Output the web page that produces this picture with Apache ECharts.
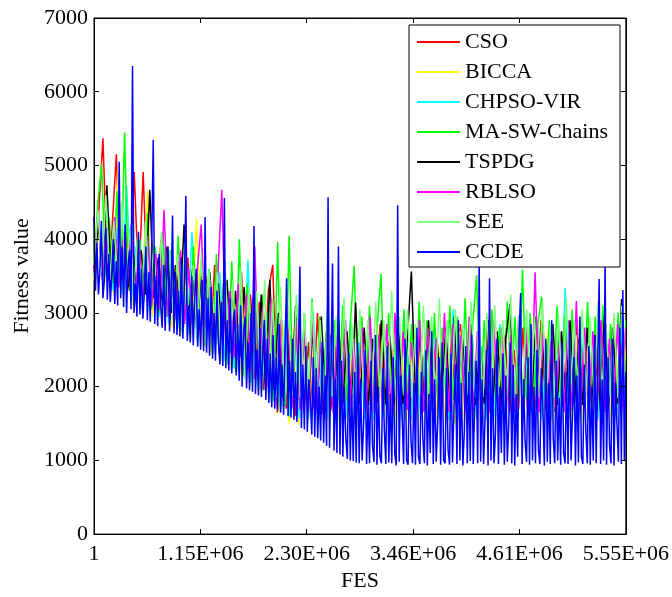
<!DOCTYPE html>
<html>
<head>
<meta charset="utf-8">
<script src="https://cdn.jsdelivr.net/npm/echarts@6/dist/echarts.min.js"></script>
<style>
html,body{margin:0;padding:0;background:#fff;}
#chart{width:672px;height:597px;}
</style>
</head>
<body>
<div id="chart"></div>
<script>
// Tick labels of the FES axis (placed at 0..5 evenly)
var xTickLabels = ['1', '1.15E+06', '2.30E+06', '3.46E+06', '4.61E+06', '5.55E+06'];
var seriesNames = ['CSO', 'BICCA', 'CHPSO-VIR', 'MA-SW-Chains', 'TSPDG', 'RBLSO', 'SEE', 'CCDE'];

var CSO = [
3600,4300,5370,3500,4100,5150,3400,4200,3300,4910,3350,4910,3150,3900,3100,4000,3000,3800,2900,3700,
2800,3750,2700,3600,2600,3500,2550,3650,2450,3400,2350,3300,2300,3550,2200,3250,2100,3150,1950,3300,
3650,1650,2900,1700,2700,1600,2850,1650,2600,1700,3000,1620,2750,1680,2550,1650,2800,1700,2650,1640,
2700,1700,2500,1650,2850,1720,2600,1680,2900,1650,2550,1700,2750,1690,2450,1710,2800,1660,2600,1700,
2650,1680,2850,1720,2500,1650,2750,1700,2950,1660,2600,1710,2700,1650,2500,1690,2800,1700,2550,1670,
2900,1700,2600,1660,2750,1720,2500,1680,2850,1650,2650,1700,2700,1690,2550,1710,2800,1660,2600,1700
];
var BICCA = [
3450,4200,3300,3900,3250,4950,3150,3800,3100,4050,
3000,4660,2950,3700,2850,3600,2800,3750,2700,3500,
2650,4270,2550,3400,2450,3300,2350,3200,2250,3150,
2150,3100,2000,2900,1900,3000,1800,2750,1650,2850,
1500,2800,1480,2600,1550,2700,1500,2500,1520,2650,
1500,2550,1530,2700,1490,2450,1520,2600,1500,2750,
1510,2500,1480,2650,1520,2400,1500,2700,1490,2550,
1520,2600,1500,2450,1480,2750,1510,2500,1490,2650,
1500,2700,1520,2550,1490,2400,1510,2650,1500,2500,
1480,2600,1510,2750,1500,2450,1520,2550,1490,2700,
1500,2500,1520,2650,1490,2600,1510,2450,1500,2550
];
var CHPSO = [
3500,4300,3350,4000,3300,4150,3250,4730,3150,3900,
3050,3800,3000,3650,2950,3900,2850,3550,2800,3700,
2700,4090,2650,3500,2550,3400,2450,3550,2350,3300,
2250,3250,2150,3720,2050,3100,1950,3000,1800,2950,
1650,2900,1600,2750,1580,2850,1560,3030,1550,2700,
1560,2800,1540,2650,1570,2900,1550,2600,1560,2750,
1550,2700,1580,2550,1540,2850,1560,2650,1550,2800,
1570,2600,1550,2750,1560,2500,1540,3050,1560,2650,
1550,2800,1570,2550,1540,2700,1560,2850,1550,2600,
1560,2750,1540,2650,1570,2900,1550,2550,1560,2700,
1550,3340,1570,2600,1540,2800,1560,2650,1550,2750,
1560,2700,1540,2850,1570
];
var MASW = [
3700,4500,5020,3500,4300,3400,4650,3350,5450,3300,
4200,3250,4000,3150,4350,3050,3900,3000,4100,2950,
3850,2850,4050,2750,3700,2700,3900,2600,3650,2550,
3600,2450,3800,2350,3500,2300,3700,2200,4000,2150,
3400,2050,3300,1950,3250,1900,3350,1800,3960,1750,
1750,4050,1800,3100,1850,3000,1800,3200,1820,2950,
1800,3050,1850,2900,1820,3100,1800,2850,3640,1830,
2950,1800,3100,1850,2800,3530,1820,3000,1800,2900,
1850,3050,1800,2850,1830,3150,1810,2900,1840,3000,
1800,2800,1850,3100,1820,2950,1800,3200,1830,2850,
3510,1820,2900,1800,3050,1850,2800,1810,3150,1830,
2950,1800,3590,1840,3000,1810,2850,3220,1830,2900,
1800,3100,1850,2950,1820,3050,1800,2900,1840,3150,
1810,2950,1830,3100,1800,2850,1850,3000,1820,2900
];
var TSPDG = [
3600,4200,3500,4730,3450,4000,3400,4100,3350,3900,
3300,3850,3250,4670,3200,3750,3100,3900,3000,3650,
2950,4200,2850,3600,2750,3500,2700,3550,2600,3400,
2550,3450,2450,3300,2400,3350,2300,3200,2200,3250,
2050,3450,1950,3000,1850,2900,1800,3100,1750,2850,
1780,2800,1750,2950,1770,2700,1760,2900,1750,2750,
1770,3140,1760,2800,1750,2650,1780,2900,1760,2700,
1750,2850,1770,2600,3560,1760,2750,1750,2900,1770,
2650,1760,2800,1750,2950,1780,2700,1760,2850,1750,
2600,1770,2900,1760,2750,1750,2650,3120,1780,2800,
1760,2700,1750,2950,1770,2600,1760,2850,1750,2750,
1780,2900,1760,2650,1750,2800,1770,2700,1760,2950,
1750,2800,1770,3190,1760
];
var RBLSO = [
3550,4400,3450,4150,3400,4300,3350,4000,3300,4200,
3250,3900,3200,4050,3100,3800,3050,4400,2950,3700,
2900,3850,2850,3600,2750,3550,4200,2650,3500,2600,
3450,4670,2500,3300,2400,3400,2300,3250,2200,3900,
2100,3100,2000,3200,1900,2950,1800,3050,1700,2900,
1680,2800,1650,2950,1670,2700,1660,2850,1650,2750,
1670,2900,1650,2650,1680,2800,1660,2950,1650,2700,
1670,2850,1650,3000,1660,2750,1680,2600,1650,2900,
1660,2800,1670,2650,1650,3000,1660,2850,1680,2700,
1650,2950,1670,2750,1660,2600,1650,2900,1680,2800,
1660,2700,1650,2950,1670,2800,1660,3550,1650,2750,
1680,2850,1660,2700,1650,2900,1670,3160,1660,2800,
1650,2750,1670,2900,1660,2650,1680,2850,1650,2800
];
var SEE = [
3650,4400,3550,4600,3450,4250,3400,4500,3350,4150,
3300,4050,3200,4250,3100,3900,3050,4100,2950,3850,
2900,3800,2800,3950,2700,3650,2650,3800,2550,3600,
2450,3550,2350,3700,2300,3450,2200,3600,2100,3350,
2000,3300,1950,3450,1900,3200,1850,3350,1850,3100,
1870,3250,1850,3000,1880,3150,1860,2900,1850,3100,
1870,2950,1850,3200,1860,2850,1880,3050,1850,2900,
1860,3150,1850,2900,1870,3300,1850,2950,1880,3050,
1850,2850,1870,3100,1860,2950,1850,3200,1870,2900,
1860,3050,1850,2850,1880,3150,1850,2950,1860,3000,
1850,3100,1870,2900,1860,3250,1850,2950,1880,3050,
1860,2950,1850,3150,1870,2850,1850,3000,1860,3200,
1850,2900,1880,3050,1860,2950,1850,3150,1870,2850,
1860,3000,1850,3100,1870
];
var CCDE = [
4300,3300,3950,3250,3600,4250,3200,3450,4150,3180,3800,3150,3500,4000,3120,3700,3100,5050,3200,3900,
3080,4200,3000,3650,3850,3050,6350,3000,3400,2950,4100,2980,3600,2920,3300,3900,2900,3550,2880,4000,
5350,2850,3500,2820,3800,3100,2800,3650,2760,3400,3900,2750,3200,4320,2720,3550,2700,3300,2680,3750,
2650,3400,4590,2620,3100,2600,3500,2560,3250,3600,2540,3050,2500,3450,2480,4300,2460,3200,2420,3350,
2380,3000,2350,3300,2600,2300,3150,2280,4560,2250,2900,2220,3200,2180,2700,3050,2150,2850,2080,3100,
2000,2750,2950,1980,2600,1950,3000,1930,4180,1900,2500,1880,2800,1860,2550,2900,1820,2650,1780,2450,
1720,2700,1700,2400,1680,2850,1650,2300,1620,2550,3470,1600,2350,1580,2650,1550,2200,1520,2500,3630,
1440,2300,1420,2550,1390,2100,1850,1350,2400,1320,2250,1300,2000,1270,2600,1240,2150,1200,4570,1170,
2300,3670,1130,2100,1100,3900,1080,2350,1050,2000,1300,1020,2450,1000,1900,990,2200,970,2600,960,
2100,1000,1500,2500,950,1800,960,2350,1200,980,2700,940,2000,1050,960,2250,1400,950,2550,970,
1900,960,2400,1100,930,4460,980,2150,1600,950,2650,1000,940,2300,1250,960,2050,940,2800,1050,
950,2200,1300,960,2500,930,1900,1100,2750,950,2100,980,1500,2400,940,2600,1000,960,2250,1150,
940,2450,970,1700,2300,950,2900,1000,2050,930,1400,2550,960,2200,990,2700,950,1800,2350,960,
3700,980,2100,950,1600,2500,930,3470,1000,2250,960,1350,2650,950,2000,1100,2450,940,2150,980,
1500,2600,960,2300,930,1900,1050,2750,3270,950,2100,1250,980,2400,940,2850,1000,2000,960,2500,
1150,950,2250,1700,930,2650,980,2050,950,2900,1300,960,2350,1000,1850,940,2600,1100,960,2200,
950,2750,1000,1600,2400,930,2150,970,2950,1050,950,2300,1400,960,2550,940,2000,1000,2700,960,
2250,3460,950,2100,1000,3700,940,2400,1200,960,2650,930,2050,1500,980,2800,950,3310,1000,2200
];

var seriesData = [CSO, BICCA, CHPSO, MASW, TSPDG, RBLSO, SEE, CCDE];
var colors = ['#ff0000', '#ffff00', '#00ffff', '#00ff00', '#000000', '#ff00ff', '#7dff7d', '#0000ff'];

var FONT = '"Liberation Serif", "Times New Roman", serif';

function toPairs(arr) {
  var n = arr.length;
  return arr.map(function (v, i) { return [5 * i / (n - 1), v]; });
}

var chart = echarts.init(document.getElementById('chart'), null, {renderer: 'canvas'});

var series = seriesNames.map(function (name, k) {
  return {
    name: name,
    type: 'line',
    xAxisIndex: 0,
    yAxisIndex: 0,
    data: toPairs(seriesData[k]),
    showSymbol: false,
    symbol: 'none',
    lineStyle: {width: 1.5, color: colors[k]},
    itemStyle: {color: colors[k]},
    animation: false,
    silent: true,
    z: 2
  };
});

function tick() { return {show: true, inside: true, length: 5, lineStyle: {color: '#000', width: 1}}; }
function line() { return {show: true, onZero: false, lineStyle: {color: '#000', width: 1}}; }

var option = {
  backgroundColor: '#ffffff',
  animation: false,
  grid: {left: 94, right: 45, top: 18, bottom: 55, containLabel: false,
         show: true, borderColor: '#000', borderWidth: 1, backgroundColor: 'transparent'},
  legend: {
    data: seriesNames,
    orient: 'vertical',
    left: 409, top: 25,
    backgroundColor: '#ffffff',
    borderColor: '#000000', borderWidth: 1,
    padding: [6, 12, 4, 8],
    itemGap: 8,
    itemWidth: 43, itemHeight: 2,
    itemTextGap: 5,
    icon: 'rect',
    textStyle: {fontFamily: FONT, fontSize: 22, color: '#000', lineHeight: 22},
    selectedMode: false,
    z: 10
  },
  xAxis: [
    {
      type: 'value', min: 0, max: 5, interval: 1, position: 'bottom', gridIndex: 0,
      axisLine: line(), axisTick: tick(), splitLine: {show: false},
      name: 'FES', nameLocation: 'middle', nameGap: 32,
      nameTextStyle: {fontFamily: FONT, fontSize: 22, color: '#000'},
      axisLabel: {
        show: true, margin: 9, color: '#000', fontFamily: FONT, fontSize: 22,
        formatter: function (v) { return xTickLabels[Math.round(v)]; }
      },
      z: 5
    },
    {
      type: 'value', min: 0, max: 5, interval: 1, position: 'top', gridIndex: 0,
      axisLine: line(), axisTick: tick(), splitLine: {show: false},
      axisLabel: {show: false}, z: 5
    }
  ],
  yAxis: [
    {
      type: 'value', min: 0, max: 7000, interval: 1000, position: 'left', gridIndex: 0,
      axisLine: line(), axisTick: tick(), splitLine: {show: false},
      name: 'Fitness value', nameLocation: 'middle', nameGap: 51,
      nameTextStyle: {fontFamily: FONT, fontSize: 22, color: '#000'},
      axisLabel: {show: true, margin: 6, color: '#000', fontFamily: FONT, fontSize: 22,
                  formatter: function (v) { return String(v); }},
      z: 5
    },
    {
      type: 'value', min: 0, max: 7000, interval: 1000, position: 'right', gridIndex: 0,
      axisLine: line(), axisTick: tick(), splitLine: {show: false},
      axisLabel: {show: false}, z: 5
    }
  ],
  series: series
};

chart.setOption(option);
</script>
</body>
</html>
